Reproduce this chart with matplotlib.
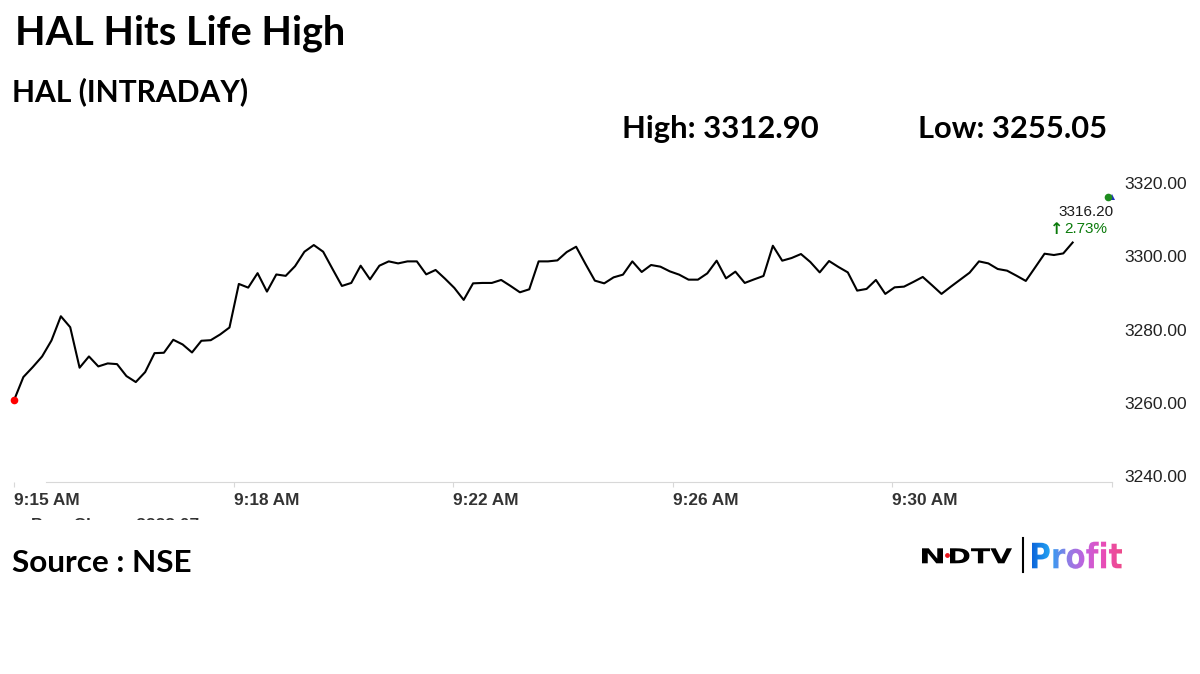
import matplotlib
matplotlib.use('Agg')
import matplotlib.pyplot as plt
import numpy as np
from matplotlib.textpath import TextPath
from matplotlib.font_manager import FontProperties
from matplotlib.patches import PathPatch
from matplotlib.transforms import Affine2D, Bbox
from matplotlib.colors import LinearSegmentedColormap

W, H = 1200, 674

# HAL intraday prices, one value per sample (ordinal x axis, as on the source chart)
prices = [
    3260.63, 3266.99, 3269.71, 3272.63, 3277.00, 3283.63, 3280.63, 3269.55, 3272.63, 3269.90,
    3270.72, 3270.53, 3267.26, 3265.62, 3268.35, 3273.53, 3273.64, 3277.19, 3275.91, 3273.72,
    3276.92, 3277.08, 3278.64, 3280.55, 3292.47, 3291.46, 3295.42, 3290.37, 3295.06, 3294.68,
    3297.33, 3301.28, 3303.11, 3301.28, 3296.56, 3291.92, 3292.74, 3297.46, 3293.72, 3297.46,
    3298.64, 3298.09, 3298.64, 3298.64, 3295.09, 3296.29, 3293.92, 3291.38, 3288.10, 3292.63,
    3292.74, 3292.74, 3293.56, 3291.92, 3290.18, 3291.00, 3298.64, 3298.64, 3298.91, 3301.20,
    3302.65, 3297.93, 3293.37, 3292.63, 3294.27, 3295.01, 3298.64, 3295.74, 3297.65, 3297.19,
    3295.91, 3295.01, 3293.64, 3293.64, 3295.36, 3298.83, 3294.00, 3295.83, 3292.74, 3293.72,
    3294.65, 3302.92, 3298.83, 3299.56, 3300.65, 3298.47, 3295.63, 3298.74, 3297.11, 3295.63,
    3290.64, 3291.10, 3293.56, 3289.74, 3291.54, 3291.73, 3293.02, 3294.38, 3292.09, 3289.74,
    3291.73, 3293.64, 3295.55, 3298.64, 3298.09, 3296.56, 3296.10, 3294.73, 3293.29, 3297.00,
    3300.74, 3300.38, 3300.82, 3303.80,
]
time_labels = ['9:15 AM', '9:18 AM', '9:22 AM', '9:26 AM', '9:30 AM', '']
y_ticks = [3240, 3260, 3280, 3300, 3320]
last_price = 3316.20
change_pct = 2.73
prev_close = 3228.07
day_high = 3312.90
day_low = 3255.05

XMAX = 117.2  # length of the ordinal axis, in samples

fig = plt.figure(figsize=(W / 100, H / 100), dpi=100)
fig.patch.set_facecolor('white')

# overlay in pixel units (y down) for headings, footer and logo
ov = fig.add_axes([0, 0, 1, 1], zorder=0)
ov.set_xlim(0, W)
ov.set_ylim(H, 0)
ov.axis('off')

ax = fig.add_axes([14 / W, 1 - 481.7 / H, 1098 / W, 305.7 / H], zorder=1)
ax.set_facecolor('none')

x = np.arange(len(prices))
ax.plot(x, prices, color='black', lw=1.5, zorder=3)
ax.plot(x[0], prices[0], 'o', color='#ff0000', ms=5.5, mew=0, clip_on=False, zorder=4)
ax.plot(XMAX, last_price, '^', color='#1f2fbf', ms=4.5, mew=0, clip_on=False, zorder=4)
ax.plot(XMAX - 0.45, last_price, 'o', color='#1e8c1e', ms=5.5, mew=0, clip_on=False, zorder=5)

# last price callout
ax.annotate(f'{last_price:.2f}', (XMAX - 0.45, last_price), xytext=(-22, -15),
            textcoords='offset pixels', ha='center', va='center',
            fontsize=11, family='Liberation Sans', color='#1a1a1a')
ax.annotate('\u2191', (XMAX - 0.45, last_price), xytext=(-51.5, -32),
            textcoords='offset pixels', ha='center', va='center',
            fontsize=11.5, fontweight='bold', family=['DejaVu Sans'], color='#0b7a0b')
ax.annotate(f'{change_pct:.2f}%', (XMAX - 0.45, last_price), xytext=(-44, -32),
            textcoords='offset pixels', ha='left', va='center',
            fontsize=11, family='Liberation Sans', color='#0b7a0b')

ax.set_xlim(0, XMAX)
ax.set_ylim(3238.36, 3322.0)
ax.set_xticks(np.linspace(0, XMAX, len(time_labels)))
ax.set_xticklabels(time_labels, ha='left', fontsize=12.4, fontweight='bold',
                   color='#333333', family='Liberation Sans')
ax.set_yticks(y_ticks)
ax.set_yticklabels([f'{v:.2f}' for v in y_ticks], fontsize=12.5,
                   color='#222222', family='Liberation Sans')
ax.yaxis.tick_right()
ax.tick_params(axis='y', length=0, pad=8.6)
ax.tick_params(axis='x', length=3.6, width=0.8, color='#d8d8d8', pad=4.3)
for s in ['left', 'top', 'right']:
    ax.spines[s].set_visible(False)
ax.spines['bottom'].set_color('#d8d8d8')
ax.spines['bottom'].set_linewidth(0.8)
ax.spines['bottom'].set_bounds(3.4, XMAX)

renderer = fig.canvas.get_renderer()


def fit_text(xp, yp, s, width, size=20, **kw):
    t = ov.text(xp, yp, s, fontsize=size, va='baseline', **kw)
    bb = t.get_window_extent(renderer=renderer)
    t.set_fontsize(size * width / bb.width)
    return t


head = dict(family='Lato', fontweight='bold', color='black')
fit_text(15, 45, 'HAL Hits Life High', 330, **head)
fit_text(12, 101, 'HAL (INTRADAY)', 236, **head)
fit_text(622, 138.3, f'High: {day_high:.2f}', 196, **head)
fit_text(918, 138.3, f'Low: {day_low:.2f}', 189, **head)
fit_text(12, 571.5, 'Source : NSE', 180, **head)

# prev close line, cut off by the chart frame in the original
pc = ov.text(31, 529.5, f'Prev Close : {prev_close:.2f}', fontsize=12.5, fontweight='bold',
             family='Liberation Sans', color='#333333', va='baseline')
pc.set_clip_box(Bbox.from_extents(0, H - 520, W, H))
pc.set_clip_on(True)


def path_text(s, xp, base, w, h, prop):
    tp = TextPath((0, 0), s, size=100, prop=prop)
    ext = tp.get_extents()
    tr = Affine2D().translate(-ext.x0, 0).scale(w / ext.width, -h / ext.y1).translate(xp, base)
    return tr.transform_path(tp)


# NDTV | Profit logo
bold = FontProperties(family='DejaVu Sans', weight='bold')
ov.add_patch(PathPatch(path_text('N', 922, 563.3, 21, 15, bold), fc='black', ec='none'))
ov.add_patch(PathPatch(path_text('DTV', 950, 563.3, 62, 15, bold), fc='black', ec='none'))
ov.plot(946.7, 554.7, 'o', color='#e8141b', ms=3.5, mew=0)
ov.plot([1022.7, 1022.7], [538, 571.7], color='black', lw=1.5)

prof = PathPatch(path_text('Profit', 1032, 568.3, 90, 26.6, bold), fc='none', ec='none')
ov.add_patch(prof)
cmap = LinearSegmentedColormap.from_list(
    'profit', ['#0a5fd8', '#23a0f2', '#8d7fe6', '#c75fdc', '#ea4db4', '#ee4a86'])
im = ov.imshow(np.linspace(0, 1, 256).reshape(1, -1), cmap=cmap, aspect='auto',
               extent=(1030, 1124, 572, 536), zorder=3)
im.set_clip_path(prof)
ov.set_xlim(0, W)
ov.set_ylim(H, 0)

fig.savefig('out.png', dpi=100, facecolor='white')
